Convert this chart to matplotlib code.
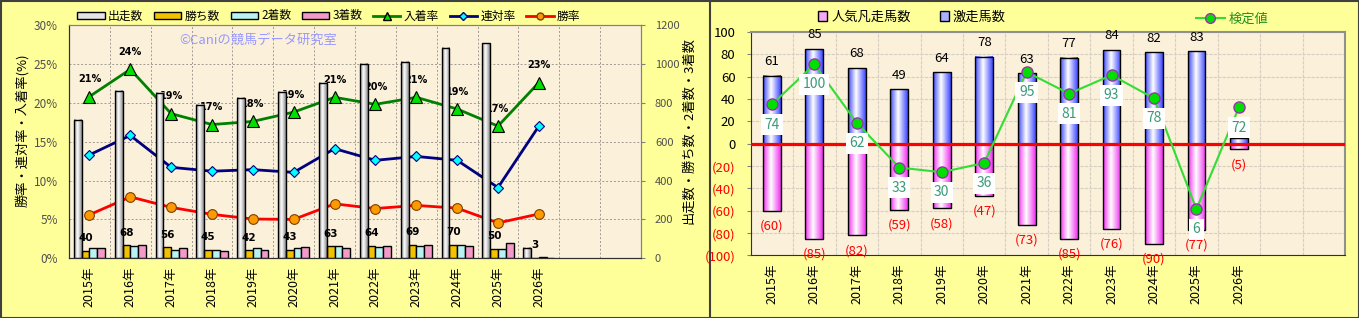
import numpy as np
import matplotlib
matplotlib.use('Agg')
import matplotlib.pyplot as plt
from matplotlib.colors import LinearSegmentedColormap
from matplotlib.patches import Patch, Rectangle
from matplotlib.lines import Line2D

plt.rcParams['font.family'] = ['Noto Sans CJK JP', 'DejaVu Sans']

# data
years = ['2015年', '2016年', '2017年', '2018年', '2019年', '2020年', '2021年',
         '2022年', '2023年', '2024年', '2025年', '2026年', '', '']
runs = [712, 862, 850, 790, 825, 855, 903, 998, 1010, 1082, 1105, 53]
wins = [40, 68, 56, 45, 42, 43, 63, 64, 69, 70, 50, 3]
seconds = [55, 65, 45, 43, 51, 51, 62, 58, 63, 67, 50, 6]
thirds = [51, 70, 53, 36, 45, 57, 51, 63, 69, 63, 81, 3]
place_rate = [20.8, 24.3, 18.6, 17.2, 17.6, 18.8, 20.7, 19.8, 20.7, 19.2, 17.0, 22.6]
quinella_rate = [13.3, 15.8, 11.7, 11.2, 11.4, 11.05, 14.1, 12.6, 13.1, 12.6, 9.1, 17.0]
win_rate = [5.6, 7.9, 6.55, 5.65, 5.05, 5.0, 7.0, 6.4, 6.8, 6.45, 4.55, 5.7]

hot_runners = [61, 85, 68, 49, 64, 78, 63, 77, 84, 82, 83, 5]
hot_labels = ['61', '85', '68', '49', '64', '78', '63', '77', '84', '82', '83', '']  # 2026 label is hidden
flop_runners = [60, 85, 82, 59, 58, 47, 73, 85, 76, 90, 77, 5]
test_value = [74, 100, 62, 33, 30, 36, 95, 81, 93, 78, 6, 72]

BG = '#FFFF99'
PLOT_BG = '#FBF0DA'


def cyl_bars(ax, xs, hs, width, color, z=2):
    # bars with a cylinder-like horizontal gradient
    cmap = LinearSegmentedColormap.from_list('c', [(0, color), (0.45, 'white'), (1, color)])
    grad = np.linspace(0, 1, 60)[None, :]
    for x, h in zip(xs, hs):
        ax.imshow(grad, cmap=cmap, extent=(x - width / 2, x + width / 2, 0, h),
                  aspect='auto', zorder=z, interpolation='bilinear')
    ax.bar(xs, hs, width, color='none', edgecolor='black', linewidth=1, zorder=z + 0.1)


fig = plt.figure(figsize=(13.59, 3.18), dpi=100, facecolor=BG)

n = len(years)
x = np.arange(len(runs))

# ---------- left chart ----------
ax = fig.add_axes([69 / 1359, 1 - 258.3 / 318, 572 / 1359, 233.3 / 318])
ax.set_facecolor(PLOT_BG)
ax2 = ax.twinx()

bw = 0.19
cyl_bars(ax2, x - 0.285, runs, bw, '#8c8c8c')
ax2.bar(x - 0.095, wins, bw, color='#F2C200', edgecolor='black', linewidth=1, zorder=2)
ax2.bar(x + 0.095, seconds, bw, color='#B8F2F2', edgecolor='black', linewidth=1, zorder=2)
ax2.bar(x + 0.285, thirds, bw, color='#F39AC8', edgecolor='black', linewidth=1, zorder=2)
for xi, w in zip(x, wins):
    ax2.annotate(str(w), (xi - 0.095, w), xytext=(0, 9), textcoords='offset points',
                 ha='center', va='center', fontsize=7.5, fontweight='bold',
                 family='DejaVu Sans', zorder=6)

ax.plot(x, place_rate, color='#008000', lw=2, marker='^', ms=8, mfc='#00E000',
        mec='black', mew=0.8, zorder=3)
ax.plot(x, quinella_rate, color='#000080', lw=2, marker='D', ms=5.5, mfc='#00FFFF',
        mec='#000080', mew=0.8, zorder=3)
ax.plot(x, win_rate, color='#FF0000', lw=2, marker='o', ms=7, mfc='#FF9900',
        mec='#7a4000', mew=0.8, zorder=3)
for xi, v in zip(x, place_rate):
    ax.annotate(f'{v:.0f}%', (xi, v), xytext=(0, 12.5), textcoords='offset points',
                ha='center', va='center', fontsize=7, fontweight='bold',
                family='DejaVu Sans', zorder=1.8)

ax.set_xlim(-0.5, n - 0.5)
ax.set_ylim(0, 30)
ax2.set_ylim(0, 1200)
ax.set_yticks(range(0, 31, 5))
ax.set_yticklabels([f'{v}%' for v in range(0, 31, 5)])
ax2.set_yticks(range(0, 1201, 200))
ax.set_xticks(np.arange(n))
ax.set_xticklabels(years, rotation=90, fontsize=9)
ax.set_xticks(np.arange(n + 1) - 0.5, minor=True)
ax.tick_params(axis='x', which='both', length=0, pad=6)
ax.tick_params(axis='y', length=0, pad=8, labelsize=8.5, labelcolor='#505050')
ax2.tick_params(axis='y', length=3, pad=7, labelsize=8, labelcolor='#505050', color='#808080')
ax.grid(axis='y', color='#a09a90', ls=(0, (2, 2)), lw=0.7)
ax.grid(axis='x', which='minor', color='#a09a90', ls=(0, (2, 2)), lw=0.7)
ax.set_axisbelow(True)
for s in ['left', 'bottom']:
    ax.spines[s].set_color('#303030')
    ax2.spines[s].set_color('#303030')
for s in ['top', 'right']:
    ax.spines[s].set_color('#808080')
    ax2.spines[s].set_color('#808080')

fig.text(22 / 1359, 1 - 130 / 318, '勝率・連対率・入着率(%)', rotation=90,
         ha='center', va='center', fontsize=9.5)
fig.text(689 / 1359, 1 - 130 / 318, '出走数・勝ち数・2着数・3着数', rotation=90,
         ha='center', va='center', fontsize=9.5)
fig.text(258 / 1359, 1 - 40 / 318, '©Caniの競馬データ研究室', ha='center', va='center',
         fontsize=9.5, color='#9999FF')

left_handles = [
    Patch(facecolor='#E4E4E4', edgecolor='black', label='出走数'),
    Patch(facecolor='#F2C200', edgecolor='black', label='勝ち数'),
    Patch(facecolor='#B8F2F2', edgecolor='black', label='2着数'),
    Patch(facecolor='#F39AC8', edgecolor='black', label='3着数'),
    Line2D([], [], color='#008000', lw=2, marker='^', ms=6, mfc='#00E000', mec='black', label='入着率'),
    Line2D([], [], color='#000080', lw=2, marker='D', ms=4, mfc='#00FFFF', mec='#000080', label='連対率'),
    Line2D([], [], color='#FF0000', lw=2, marker='o', ms=5, mfc='#FF9900', mec='#7a4000', label='勝率'),
]
fig.legend(handles=left_handles, loc='center', bbox_to_anchor=(329 / 1359, 1 - 16 / 318),
           ncol=7, frameon=False, fontsize=8.5, handlelength=2.3, handleheight=0.6,
           columnspacing=0.9, handletextpad=0.3)

# ---------- right chart ----------
bx = fig.add_axes([750.7 / 1359, 1 - 255.4 / 318, 594.3 / 1359, 223.4 / 318])
bx.set_facecolor(PLOT_BG)
cyl_bars(bx, x, hot_runners, 0.42, '#3C46FF')
cyl_bars(bx, x, [-v for v in flop_runners], 0.42, '#F030F0')
bx.axhline(0, color='#FF0000', lw=2.3, zorder=3)
for xi, v, lab in zip(x, hot_runners, hot_labels):
    bx.annotate(lab, (xi, v), xytext=(0, 10), textcoords='offset points',
                ha='center', va='center', fontsize=9.5, zorder=5)
for xi, v in zip(x, flop_runners):
    bx.annotate(f'({v})', (xi, -v), xytext=(0, -11), textcoords='offset points',
                ha='center', va='center', fontsize=9.5, color='#FF0000', zorder=5)

bx.set_xlim(-0.5, n - 0.5)
bx.set_ylim(-100, 100)
yt = list(range(-100, 101, 20))
bx.set_yticks(yt)
bx.set_yticklabels([str(v) if v >= 0 else f'({-v})' for v in yt])
for lab, v in zip(bx.get_yticklabels(), yt):
    lab.set_color('black' if v >= 0 else '#FF0000')
bx.set_xticks(np.arange(n))
bx.set_xticklabels(years, rotation=90, fontsize=9)
bx.set_xticks(np.arange(n + 1) - 0.5, minor=True)
bx.tick_params(axis='x', which='both', length=0, pad=6)
bx.tick_params(axis='y', length=3, pad=8, labelsize=9.5, color='#808080')
bx.grid(axis='y', color='#d6cfc2', ls=(0, (3, 1)), lw=0.8)
bx.grid(axis='x', which='minor', color='#d6cfc2', ls=(0, (3, 1)), lw=0.8)
bx.set_axisbelow(True)
for s in ['left', 'bottom']:
    bx.spines[s].set_color('#303030')
for s in ['top', 'right']:
    bx.spines[s].set_color('#909090')
    bx.spines[s].set_linewidth(1.5)

bx2 = bx.twinx()
bx2.set_ylim(-24, 121)
bx2.set_yticks([])
for s in bx2.spines.values():
    s.set_visible(False)
bx2.plot(x, test_value, color='#33DD33', lw=1.5, marker='o', ms=8, mfc='#00E000',
         mec='#9933AA', mew=1, zorder=3)
for xi, v in zip(x, test_value):
    bx2.annotate(str(v), (xi, v), xytext=(0, -14.5), textcoords='offset points',
                 ha='center', va='center', fontsize=10, color='#3A9A78', zorder=5,
                 bbox=dict(boxstyle='square,pad=0.25', fc='white', ec='none'))

right_handles = [
    Patch(facecolor='#F7A8F7', edgecolor='black', label='人気凡走馬数'),
    Patch(facecolor='#A8B0FF', edgecolor='black', label='激走馬数'),
]
fig.legend(handles=right_handles, loc='center', bbox_to_anchor=(912 / 1359, 1 - 17 / 318),
           ncol=2, frameon=False, fontsize=9.5, handlelength=0.7, handleheight=0.7,
           columnspacing=2.2, handletextpad=0.3)
leg3 = fig.legend(handles=[Line2D([], [], color='#33DD33', lw=1.5, marker='o', ms=7,
                                  mfc='#00E000', mec='#9933AA', label='検定値')],
                  loc='center', bbox_to_anchor=(1232 / 1359, 1 - 19 / 318), frameon=False,
                  fontsize=9.5, handlelength=2.2, handletextpad=0.3)
for t in leg3.get_texts():
    t.set_color('#1F8F1F')

# panel borders
fig.patches.append(Rectangle((0.5 / 1359, 0.5 / 318), 1358 / 1359, 317 / 318, transform=fig.transFigure,
                             fill=False, ec='#404040', lw=1.5))
fig.add_artist(Line2D([710 / 1359, 710 / 1359], [0, 1], transform=fig.transFigure,
                      color='#404040', lw=1.5))

fig.savefig('out.png', dpi=100, facecolor=BG)
